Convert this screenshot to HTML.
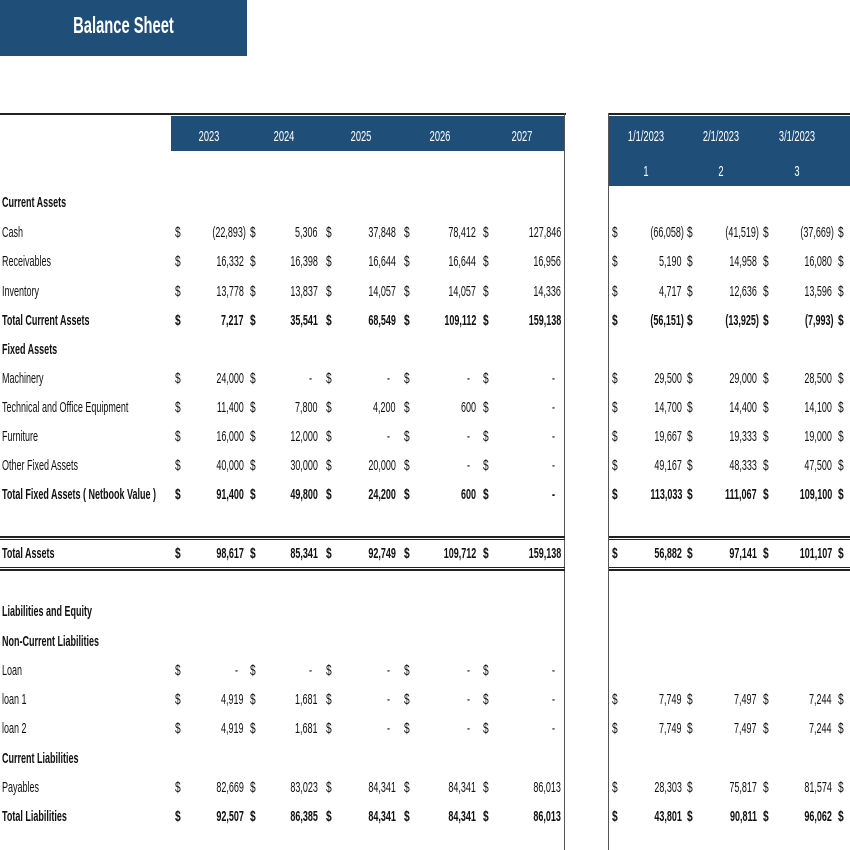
<!DOCTYPE html>
<html><head><meta charset="utf-8"><style>
*{margin:0;padding:0;box-sizing:border-box}
body{width:850px;height:850px;background:#fff;position:relative;overflow:hidden;font-family:"Liberation Sans",sans-serif;color:#111}
.b{position:absolute;background:#1f4e79}
.l{position:absolute;background:#222}
.r{position:absolute;left:0;width:850px;height:18px;font-size:15px;line-height:18px}
.r span{position:absolute;white-space:nowrap;top:0}
.t{left:2px;transform:scaleX(.6);transform-origin:left}
.d{transform:scaleX(.68);transform-origin:left}
.n{transform:scaleX(.6);transform-origin:right}
.bo{font-weight:bold}
.h{position:absolute;color:#fff;font-size:15px;transform:translateX(-50%) scaleX(.62);white-space:nowrap}
</style></head><body>
<div class="b" style="left:0;top:0;width:247px;height:56px"></div>
<div style="position:absolute;left:0;top:12px;width:247px;text-align:center;color:#fff;font-weight:bold;font-size:23px;transform:scaleX(.64)">Balance Sheet</div>

<div class="l" style="left:0;top:113px;width:566px;height:2px"></div>
<div class="l" style="left:608px;top:113px;width:242px;height:2px"></div>
<div class="b" style="left:171px;top:116px;width:394px;height:35px"></div>
<div class="b" style="left:609px;top:116px;width:241px;height:70px"></div>
<div class="l" style="left:564px;top:113px;width:1px;height:737px;background:#555"></div>
<div class="l" style="left:608px;top:113px;width:1px;height:737px;background:#555"></div>

<div class="h" style="left:209px;top:128px">2023</div>
<div class="h" style="left:284px;top:128px">2024</div>
<div class="h" style="left:361px;top:128px">2025</div>
<div class="h" style="left:440px;top:128px">2026</div>
<div class="h" style="left:522px;top:128px">2027</div>
<div class="h" style="left:646px;top:128px">1/1/2023</div>
<div class="h" style="left:721px;top:128px">2/1/2023</div>
<div class="h" style="left:797px;top:128px">3/1/2023</div>
<div class="h" style="left:646px;top:163px">1</div>
<div class="h" style="left:721px;top:163px">2</div>
<div class="h" style="left:797px;top:163px">3</div>

<div class="l" style="left:0;top:536px;width:565px;height:2px"></div>
<div class="l" style="left:0;top:539px;width:565px;height:1px"></div>
<div class="l" style="left:0;top:567px;width:565px;height:1px"></div>
<div class="l" style="left:0;top:569px;width:565px;height:2px"></div>
<div class="l" style="left:609px;top:536px;width:241px;height:2px"></div>
<div class="l" style="left:609px;top:539px;width:241px;height:1px"></div>
<div class="l" style="left:609px;top:567px;width:241px;height:1px"></div>
<div class="l" style="left:609px;top:569px;width:241px;height:2px"></div>

<div class="r bo" style="top:194px"><span class="t">Current Assets</span></div>
<div class="r" style="top:224px"><span class="t">Cash</span>
<span class="d" style="left:175px">$</span><span class="n" style="right:604px">(22,893)</span>
<span class="d" style="left:250px">$</span><span class="n" style="right:532px">5,306</span>
<span class="d" style="left:326px">$</span><span class="n" style="right:454px">37,848</span>
<span class="d" style="left:404px">$</span><span class="n" style="right:374px">78,412</span>
<span class="d" style="left:483px">$</span><span class="n" style="right:289px">127,846</span>
<span class="d" style="left:612px">$</span><span class="n" style="right:166px">(66,058)</span>
<span class="d" style="left:687px">$</span><span class="n" style="right:91px">(41,519)</span>
<span class="d" style="left:763px">$</span><span class="n" style="right:16px">(37,669)</span>
<span class="d" style="left:838px">$</span></div>
<div class="r" style="top:253px"><span class="t">Receivables</span>
<span class="d" style="left:175px">$</span><span class="n" style="right:606px">16,332</span>
<span class="d" style="left:250px">$</span><span class="n" style="right:532px">16,398</span>
<span class="d" style="left:326px">$</span><span class="n" style="right:454px">16,644</span>
<span class="d" style="left:404px">$</span><span class="n" style="right:374px">16,644</span>
<span class="d" style="left:483px">$</span><span class="n" style="right:289px">16,956</span>
<span class="d" style="left:612px">$</span><span class="n" style="right:168px">5,190</span>
<span class="d" style="left:687px">$</span><span class="n" style="right:93px">14,958</span>
<span class="d" style="left:763px">$</span><span class="n" style="right:18px">16,080</span>
<span class="d" style="left:838px">$</span></div>
<div class="r" style="top:283px"><span class="t">Inventory</span>
<span class="d" style="left:175px">$</span><span class="n" style="right:606px">13,778</span>
<span class="d" style="left:250px">$</span><span class="n" style="right:532px">13,837</span>
<span class="d" style="left:326px">$</span><span class="n" style="right:454px">14,057</span>
<span class="d" style="left:404px">$</span><span class="n" style="right:374px">14,057</span>
<span class="d" style="left:483px">$</span><span class="n" style="right:289px">14,336</span>
<span class="d" style="left:612px">$</span><span class="n" style="right:168px">4,717</span>
<span class="d" style="left:687px">$</span><span class="n" style="right:93px">12,636</span>
<span class="d" style="left:763px">$</span><span class="n" style="right:18px">13,596</span>
<span class="d" style="left:838px">$</span></div>
<div class="r bo" style="top:312px"><span class="t">Total Current Assets</span>
<span class="d" style="left:175px">$</span><span class="n" style="right:606px">7,217</span>
<span class="d" style="left:250px">$</span><span class="n" style="right:532px">35,541</span>
<span class="d" style="left:326px">$</span><span class="n" style="right:454px">68,549</span>
<span class="d" style="left:404px">$</span><span class="n" style="right:374px">109,112</span>
<span class="d" style="left:483px">$</span><span class="n" style="right:289px">159,138</span>
<span class="d" style="left:612px">$</span><span class="n" style="right:166px">(56,151)</span>
<span class="d" style="left:687px">$</span><span class="n" style="right:91px">(13,925)</span>
<span class="d" style="left:763px">$</span><span class="n" style="right:16px">(7,993)</span>
<span class="d" style="left:838px">$</span></div>
<div class="r bo" style="top:341px"><span class="t">Fixed Assets</span></div>
<div class="r" style="top:370px"><span class="t">Machinery</span>
<span class="d" style="left:175px">$</span><span class="n" style="right:606px">24,000</span>
<span class="d" style="left:250px">$</span><span class="n" style="right:538px">-</span>
<span class="d" style="left:326px">$</span><span class="n" style="right:460px">-</span>
<span class="d" style="left:404px">$</span><span class="n" style="right:380px">-</span>
<span class="d" style="left:483px">$</span><span class="n" style="right:295px">-</span>
<span class="d" style="left:612px">$</span><span class="n" style="right:168px">29,500</span>
<span class="d" style="left:687px">$</span><span class="n" style="right:93px">29,000</span>
<span class="d" style="left:763px">$</span><span class="n" style="right:18px">28,500</span>
<span class="d" style="left:838px">$</span></div>
<div class="r" style="top:399px"><span class="t">Technical and Office Equipment</span>
<span class="d" style="left:175px">$</span><span class="n" style="right:606px">11,400</span>
<span class="d" style="left:250px">$</span><span class="n" style="right:532px">7,800</span>
<span class="d" style="left:326px">$</span><span class="n" style="right:454px">4,200</span>
<span class="d" style="left:404px">$</span><span class="n" style="right:374px">600</span>
<span class="d" style="left:483px">$</span><span class="n" style="right:295px">-</span>
<span class="d" style="left:612px">$</span><span class="n" style="right:168px">14,700</span>
<span class="d" style="left:687px">$</span><span class="n" style="right:93px">14,400</span>
<span class="d" style="left:763px">$</span><span class="n" style="right:18px">14,100</span>
<span class="d" style="left:838px">$</span></div>
<div class="r" style="top:428px"><span class="t">Furniture</span>
<span class="d" style="left:175px">$</span><span class="n" style="right:606px">16,000</span>
<span class="d" style="left:250px">$</span><span class="n" style="right:532px">12,000</span>
<span class="d" style="left:326px">$</span><span class="n" style="right:460px">-</span>
<span class="d" style="left:404px">$</span><span class="n" style="right:380px">-</span>
<span class="d" style="left:483px">$</span><span class="n" style="right:295px">-</span>
<span class="d" style="left:612px">$</span><span class="n" style="right:168px">19,667</span>
<span class="d" style="left:687px">$</span><span class="n" style="right:93px">19,333</span>
<span class="d" style="left:763px">$</span><span class="n" style="right:18px">19,000</span>
<span class="d" style="left:838px">$</span></div>
<div class="r" style="top:457px"><span class="t">Other Fixed Assets</span>
<span class="d" style="left:175px">$</span><span class="n" style="right:606px">40,000</span>
<span class="d" style="left:250px">$</span><span class="n" style="right:532px">30,000</span>
<span class="d" style="left:326px">$</span><span class="n" style="right:454px">20,000</span>
<span class="d" style="left:404px">$</span><span class="n" style="right:380px">-</span>
<span class="d" style="left:483px">$</span><span class="n" style="right:295px">-</span>
<span class="d" style="left:612px">$</span><span class="n" style="right:168px">49,167</span>
<span class="d" style="left:687px">$</span><span class="n" style="right:93px">48,333</span>
<span class="d" style="left:763px">$</span><span class="n" style="right:18px">47,500</span>
<span class="d" style="left:838px">$</span></div>
<div class="r bo" style="top:486px"><span class="t">Total Fixed Assets ( Netbook Value )</span>
<span class="d" style="left:175px">$</span><span class="n" style="right:606px">91,400</span>
<span class="d" style="left:250px">$</span><span class="n" style="right:532px">49,800</span>
<span class="d" style="left:326px">$</span><span class="n" style="right:454px">24,200</span>
<span class="d" style="left:404px">$</span><span class="n" style="right:374px">600</span>
<span class="d" style="left:483px">$</span><span class="n" style="right:295px">-</span>
<span class="d" style="left:612px">$</span><span class="n" style="right:168px">113,033</span>
<span class="d" style="left:687px">$</span><span class="n" style="right:93px">111,067</span>
<span class="d" style="left:763px">$</span><span class="n" style="right:18px">109,100</span>
<span class="d" style="left:838px">$</span></div>
<div class="r bo" style="top:545px"><span class="t">Total Assets</span>
<span class="d" style="left:175px">$</span><span class="n" style="right:606px">98,617</span>
<span class="d" style="left:250px">$</span><span class="n" style="right:532px">85,341</span>
<span class="d" style="left:326px">$</span><span class="n" style="right:454px">92,749</span>
<span class="d" style="left:404px">$</span><span class="n" style="right:374px">109,712</span>
<span class="d" style="left:483px">$</span><span class="n" style="right:289px">159,138</span>
<span class="d" style="left:612px">$</span><span class="n" style="right:168px">56,882</span>
<span class="d" style="left:687px">$</span><span class="n" style="right:93px">97,141</span>
<span class="d" style="left:763px">$</span><span class="n" style="right:18px">101,107</span>
<span class="d" style="left:838px">$</span></div>
<div class="r bo" style="top:603px"><span class="t">Liabilities and Equity</span></div>
<div class="r bo" style="top:633px"><span class="t">Non-Current Liabilities</span></div>
<div class="r" style="top:662px"><span class="t">Loan</span>
<span class="d" style="left:175px">$</span><span class="n" style="right:612px">-</span>
<span class="d" style="left:250px">$</span><span class="n" style="right:538px">-</span>
<span class="d" style="left:326px">$</span><span class="n" style="right:460px">-</span>
<span class="d" style="left:404px">$</span><span class="n" style="right:380px">-</span>
<span class="d" style="left:483px">$</span><span class="n" style="right:295px">-</span></div>
<div class="r" style="top:691px"><span class="t">loan 1</span>
<span class="d" style="left:175px">$</span><span class="n" style="right:606px">4,919</span>
<span class="d" style="left:250px">$</span><span class="n" style="right:532px">1,681</span>
<span class="d" style="left:326px">$</span><span class="n" style="right:460px">-</span>
<span class="d" style="left:404px">$</span><span class="n" style="right:380px">-</span>
<span class="d" style="left:483px">$</span><span class="n" style="right:295px">-</span>
<span class="d" style="left:612px">$</span><span class="n" style="right:168px">7,749</span>
<span class="d" style="left:687px">$</span><span class="n" style="right:93px">7,497</span>
<span class="d" style="left:763px">$</span><span class="n" style="right:18px">7,244</span>
<span class="d" style="left:838px">$</span></div>
<div class="r" style="top:720px"><span class="t">loan 2</span>
<span class="d" style="left:175px">$</span><span class="n" style="right:606px">4,919</span>
<span class="d" style="left:250px">$</span><span class="n" style="right:532px">1,681</span>
<span class="d" style="left:326px">$</span><span class="n" style="right:460px">-</span>
<span class="d" style="left:404px">$</span><span class="n" style="right:380px">-</span>
<span class="d" style="left:483px">$</span><span class="n" style="right:295px">-</span>
<span class="d" style="left:612px">$</span><span class="n" style="right:168px">7,749</span>
<span class="d" style="left:687px">$</span><span class="n" style="right:93px">7,497</span>
<span class="d" style="left:763px">$</span><span class="n" style="right:18px">7,244</span>
<span class="d" style="left:838px">$</span></div>
<div class="r bo" style="top:750px"><span class="t">Current Liabilities</span></div>
<div class="r" style="top:779px"><span class="t">Payables</span>
<span class="d" style="left:175px">$</span><span class="n" style="right:606px">82,669</span>
<span class="d" style="left:250px">$</span><span class="n" style="right:532px">83,023</span>
<span class="d" style="left:326px">$</span><span class="n" style="right:454px">84,341</span>
<span class="d" style="left:404px">$</span><span class="n" style="right:374px">84,341</span>
<span class="d" style="left:483px">$</span><span class="n" style="right:289px">86,013</span>
<span class="d" style="left:612px">$</span><span class="n" style="right:168px">28,303</span>
<span class="d" style="left:687px">$</span><span class="n" style="right:93px">75,817</span>
<span class="d" style="left:763px">$</span><span class="n" style="right:18px">81,574</span>
<span class="d" style="left:838px">$</span></div>
<div class="r bo" style="top:808px"><span class="t">Total Liabilities</span>
<span class="d" style="left:175px">$</span><span class="n" style="right:606px">92,507</span>
<span class="d" style="left:250px">$</span><span class="n" style="right:532px">86,385</span>
<span class="d" style="left:326px">$</span><span class="n" style="right:454px">84,341</span>
<span class="d" style="left:404px">$</span><span class="n" style="right:374px">84,341</span>
<span class="d" style="left:483px">$</span><span class="n" style="right:289px">86,013</span>
<span class="d" style="left:612px">$</span><span class="n" style="right:168px">43,801</span>
<span class="d" style="left:687px">$</span><span class="n" style="right:93px">90,811</span>
<span class="d" style="left:763px">$</span><span class="n" style="right:18px">96,062</span>
<span class="d" style="left:838px">$</span></div>
</body></html>
